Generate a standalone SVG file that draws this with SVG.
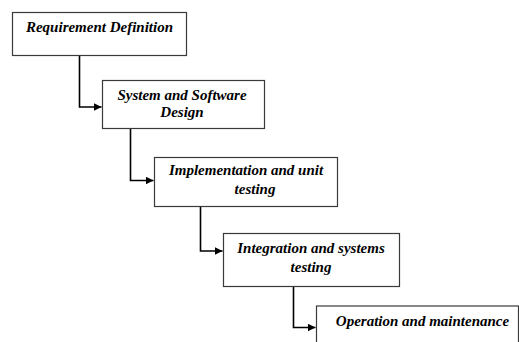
<svg xmlns="http://www.w3.org/2000/svg" width="519" height="342" viewBox="0 0 519 342">
  <defs>
    <marker id="arrow" viewBox="0 0 10 10" refX="10" refY="5" markerWidth="8" markerHeight="8" markerUnits="userSpaceOnUse" orient="auto">
      <path d="M0,0 L10,5 L0,10 z" fill="#000"/>
    </marker>
    <style>
      .box { fill: #fff; stroke: #3a3a3a; stroke-width: 1.2; }
      .lbl { font-family: "Liberation Serif", "Times New Roman", serif; font-weight: bold; font-style: italic; font-size: 15px; fill: #000; text-anchor: middle; }
      .edge { fill: none; stroke: #000; stroke-width: 1.6; marker-end: url(#arrow); }
    </style>
  </defs>
  <rect width="519" height="342" fill="#fff"/>

  <g id="connectors">
    <path class="edge" d="M79.5,55 V107 H101.5"/>
    <path class="edge" d="M130.5,128 V180.5 H153.5"/>
    <path class="edge" d="M200.5,206 V251 H222.5"/>
    <path class="edge" d="M293.5,286 V327.5 H315.5"/>
  </g>

  <g id="requirement-definition">
    <rect class="box" x="12.5" y="12.5" width="174" height="43"/>
    <text class="lbl" x="99.5" y="32">Requirement Definition</text>
  </g>

  <g id="system-software-design">
    <rect class="box" x="102.5" y="80.5" width="162" height="48"/>
    <text class="lbl" x="182" y="100">System and Software</text>
    <text class="lbl" x="182" y="117">Design</text>
  </g>

  <g id="implementation-unit-testing">
    <rect class="box" x="154.5" y="157.5" width="183" height="49"/>
    <text class="lbl" x="246" y="175">Implementation and unit</text>
    <text class="lbl" x="255" y="194">testing</text>
  </g>

  <g id="integration-systems-testing">
    <rect class="box" x="223.5" y="233.5" width="176" height="53"/>
    <text class="lbl" x="311" y="253">Integration and systems</text>
    <text class="lbl" x="311" y="272">testing</text>
  </g>

  <g id="operation-maintenance">
    <rect class="box" x="316.5" y="306" width="202" height="50"/>
    <text class="lbl" x="422.5" y="326">Operation and maintenance</text>
  </g>
</svg>
